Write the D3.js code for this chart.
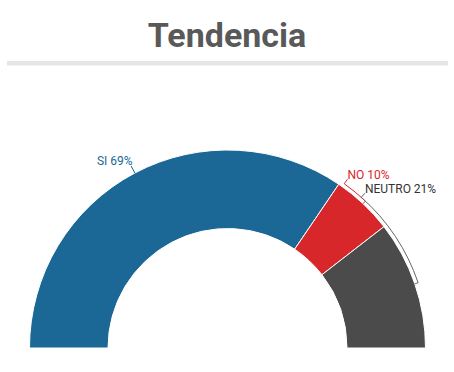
<!DOCTYPE html>
<html>
<head>
<meta charset="utf-8">
<script src="https://cdn.jsdelivr.net/npm/d3@7"></script>
<style>
  html, body { margin: 0; padding: 0; background: #fff; }
  svg { display: block; font-family: Roboto, "Noto Sans", sans-serif; }
</style>
</head>
<body>
<svg id="chart"></svg>
<script>
// datos de la tendencia
const categories = ["SI", "NO", "NEUTRO"];
const values = [69, 10, 21];
const colors = ["#1b6896", "#d7272b", "#4b4b4b"];
const labelColors = ["#1b6896", "#d7272b", "#333333"];
const lineColors = ["#1b6896", "#d7272b", "#666666"];

const width = 454;
const height = 372;
const cx = 227.5;
const cy = 348;
const outerR = 198;
const innerR = 119.5;
const labelR = 207;
// angulos de las etiquetas (grados); null = en el medio del sector
const labelAngles = [null, 35.4, 41.6];

const svg = d3.select("#chart")
  .attr("width", width)
  .attr("height", height);

// titulo
svg.append("text")
  .attr("x", width / 2)
  .attr("y", 47)
  .attr("text-anchor", "middle")
  .style("font-size", "34px")
  .style("font-weight", "bold")
  .style("fill", "#595959")
  .text("Tendencia");

svg.append("rect")
  .attr("x", 7)
  .attr("y", 61)
  .attr("width", 441)
  .attr("height", 4.5)
  .style("fill", "#e6e6e6");

const data = categories.map((c, i) => ({
  name: c, value: values[i], color: colors[i],
  labelColor: labelColors[i], lineColor: lineColors[i]
}));

const pie = d3.pie()
  .sort(null)
  .value(d => d.value)
  .startAngle(-Math.PI / 2)
  .endAngle(Math.PI / 2);

const arc = d3.arc()
  .innerRadius(innerR)
  .outerRadius(outerR);

const g = svg.append("g")
  .attr("transform", `translate(${cx}, ${cy})`);

const arcs = pie(data);

g.selectAll("path.slice")
  .data(arcs)
  .enter()
  .append("path")
  .attr("class", "slice")
  .attr("d", arc)
  .style("fill", d => d.data.color)
  .style("stroke", "#fff")
  .style("stroke-width", 1);

// punto en coordenadas polares (angulo desde la vertical)
function pt(a, r) {
  return [r * Math.sin(a), -r * Math.cos(a)];
}

arcs.forEach((d, i) => {
  const mid = (d.startAngle + d.endAngle) / 2;
  const la = labelAngles[i] === null ? mid : labelAngles[i] * Math.PI / 180;
  const lp = pt(la, labelR);
  const onLeft = la < 0;

  // linea de la etiqueta
  const p = d3.path();
  if (labelAngles[i] === null) {
    const s = pt(mid, labelR - 1);
    const e = pt(mid, outerR);
    p.moveTo(s[0], s[1]);
    p.lineTo(e[0], e[1]);
  } else {
    const bracketR = outerR + 3.5;
    const s = pt(la, bracketR);
    p.moveTo(lp[0], lp[1]);
    p.lineTo(s[0], s[1]);
    p.arc(0, 0, bracketR, la - Math.PI / 2, mid - Math.PI / 2, false);
    const e = pt(mid, outerR);
    p.lineTo(e[0], e[1]);
  }
  g.append("path")
    .attr("d", p.toString())
    .style("fill", "none")
    .style("stroke", d.data.lineColor)
    .style("stroke-width", 1);

  g.append("text")
    .attr("x", lp[0] + (onLeft ? 2 : 0))
    .attr("y", lp[1])
    .attr("text-anchor", onLeft ? "end" : "start")
    .style("font-size", "12px")
    .style("fill", d.data.labelColor)
    .text(`${d.data.name} ${d.data.value}%`);
});
</script>
</body>
</html>
